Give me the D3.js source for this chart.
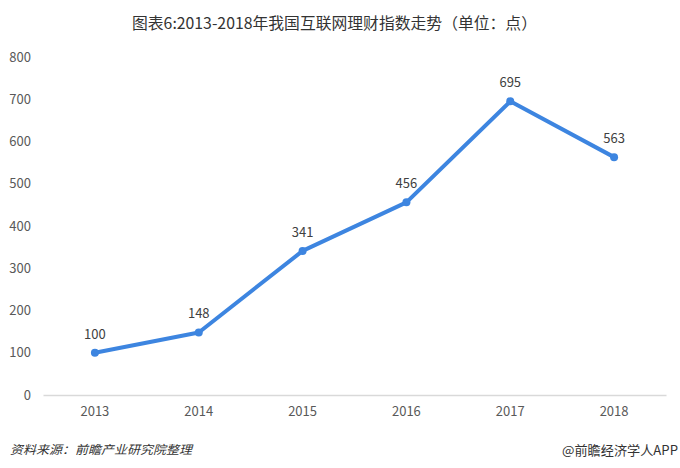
<!DOCTYPE html>
<html><head><meta charset="utf-8">
<script src="https://cdn.jsdelivr.net/npm/d3@7"></script>
<style>body{margin:0;background:#fff;}svg{display:block;}</style>
</head><body>
<script>
const years = ["2013","2014","2015","2016","2017","2018"];
const values = [100,148,341,456,695,563];
const yTicks = [0,100,200,300,400,500,600,700,800];
const title = "图表6:2013-2018年我国互联网理财指数走势（单位：点）";
const source = "资料来源：前瞻产业研究院整理";
const brand = "@前瞻经济学人APP";

const W=680,H=468;
const svg=d3.select("body").append("svg").attr("width",W).attr("height",H);
const font="'Noto Sans CJK SC','Noto Sans',sans-serif";

const x=d3.scaleBand().domain(years).range([43,666]);
const y=d3.scaleLinear().domain([0,800]).range([395,57]);

svg.append("text").attr("x",132).attr("y",29)
  .attr("textLength",405).attr("lengthAdjust","spacingAndGlyphs")
  .attr("font-family",font).attr("font-size",15.5).attr("fill","#333").text(title);

// y axis labels
const ya=svg.append("g").attr("transform","translate(31,0)")
  .call(d3.axisLeft(y).tickValues(yTicks).tickSize(0).tickPadding(0));
ya.select(".domain").remove();
ya.selectAll("text").attr("font-family",font).attr("font-size",13).attr("fill","#595959");

// x axis
const xa=svg.append("g").attr("transform","translate(0,395)")
  .call(d3.axisBottom(x).tickSize(0).tickPadding(12));
xa.select(".domain").attr("stroke","#d9d9d9").attr("stroke-width",1.5);
xa.selectAll("text").attr("font-family",font).attr("font-size",13).attr("fill","#595959");

const cx=d=>x(d)+x.bandwidth()/2;
const data=years.map((yr,i)=>({yr,v:values[i]}));
svg.append("path").datum(data)
  .attr("d",d3.line().x(d=>cx(d.yr)).y(d=>y(d.v)))
  .attr("fill","none").attr("stroke","#3d85e0").attr("stroke-width",4).attr("stroke-linejoin","round");
svg.selectAll("circle.pt").data(data).enter().append("circle")
  .attr("cx",d=>cx(d.yr)).attr("cy",d=>y(d.v)).attr("r",4).attr("fill","#3d85e0");
svg.selectAll("text.lbl").data(data).enter().append("text")
  .attr("x",d=>cx(d.yr)).attr("y",d=>y(d.v)-14).attr("text-anchor","middle")
  .attr("font-family",font).attr("font-size",13).attr("fill","#404040").text(d=>d.v);

svg.append("text").attr("x",10).attr("y",454)
  .attr("textLength",182).attr("lengthAdjust","spacingAndGlyphs")
  .attr("font-family",font).attr("font-size",12)
  .attr("font-style","italic").attr("fill","#333").text(source);
svg.append("text").attr("x",562).attr("y",455)
  .attr("textLength",116).attr("lengthAdjust","spacingAndGlyphs")
  .attr("font-family",font).attr("font-size",13)
  .attr("fill","#333").text(brand);
</script>
</body></html>
